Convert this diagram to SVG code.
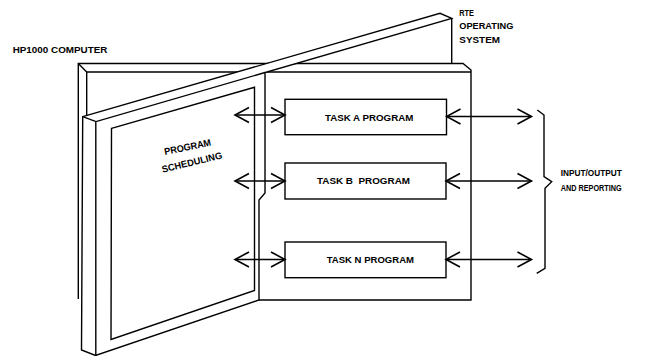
<svg xmlns="http://www.w3.org/2000/svg" width="651" height="356" viewBox="0 0 651 356">
<style>
.ln{fill:none;stroke:#000;stroke-width:1.4;stroke-linejoin:miter}
.fw{fill:#fff;stroke:#000;stroke-width:1.4;stroke-linejoin:miter}
.bx{fill:#fff;stroke:#000;stroke-width:1.4}
.t{font-family:"Liberation Sans",Arial,sans-serif;font-weight:bold;font-size:9.6px;fill:#000}
.ar{fill:none;stroke:#000;stroke-width:1.6}
</style>
<defs>
<marker id="chev" markerUnits="userSpaceOnUse" viewBox="-16 -9 18 18" refX="0" refY="0" markerWidth="18" markerHeight="18" orient="auto-start-reverse">
<path d="M-14,-7.5 L0,0 L-14,7.5" fill="none" stroke="#000" stroke-width="1.6"/>
</marker>
</defs>
<rect width="651" height="356" fill="#fff"/>
<g id="hp1000">
<path class="ln" d="M78.3,299 V63.5 H463 L471,70 V300 H259"/>
<path class="ln" d="M78.3,63.5 L86.7,71.9 M86.7,116 V72 H471"/>
<path class="ln" d="M451.7,18.3 V63.5"/>
<text class="t" x="12.7" y="53.3" textLength="94.7" lengthAdjust="spacingAndGlyphs">HP1000 COMPUTER</text>
</g>
<g id="rte">
<text class="t" x="459.3" y="16" textLength="14.7" lengthAdjust="spacingAndGlyphs">RTE</text>
<text class="t" x="459.3" y="29.3" textLength="54" lengthAdjust="spacingAndGlyphs">OPERATING</text>
<text class="t" x="459.3" y="42.7" textLength="40.7" lengthAdjust="spacingAndGlyphs">SYSTEM</text>
</g>
<g id="door">
<path class="fw" d="M82.7,116.7 L440,13.3 L451.7,18.3 L265,72.5 V193 L259,200 V300 L95.5,355.5 L81.5,350 Z"/>
<path class="ln" d="M82.7,116.7 L96,121.6 L265,72.5 M95.8,121.6 V355.5"/>
</g>
<g id="scheduling">
<path class="ln" d="M111.5,128.3 L254.5,87.3 V290.5 L111,339.5 Z"/>
<text class="t" transform="translate(165,155) rotate(-11.5)" textLength="47.5" lengthAdjust="spacingAndGlyphs">PROGRAM</text>
<text class="t" transform="translate(162.7,172.7) rotate(-13.5)" textLength="61.7" lengthAdjust="spacingAndGlyphs">SCHEDULING</text>
</g>
<g id="taskA">
<rect class="bx" x="285" y="99.3" width="161.5" height="35.4"/>
<text class="t" x="325" y="120.7" textLength="88.3" lengthAdjust="spacingAndGlyphs">TASK A PROGRAM</text>
</g>
<g id="taskB">
<rect class="bx" x="285" y="163" width="161" height="36"/>
<text class="t" x="317" y="184.3" textLength="93" lengthAdjust="spacingAndGlyphs" xml:space="preserve">TASK B  PROGRAM</text>
</g>
<g id="taskN">
<rect class="bx" x="285" y="242" width="161" height="35.7"/>
<text class="t" x="326.7" y="263" textLength="87.3" lengthAdjust="spacingAndGlyphs">TASK N PROGRAM</text>
</g>
<g id="io">
<path class="ln" d="M537.3,110 L544,115 V176.7 L551.7,181.7 L545,188.3 V268.3 L536.7,273.3"/>
<text class="t" x="560.7" y="176" textLength="61" lengthAdjust="spacingAndGlyphs">INPUT/OUTPUT</text>
<text class="t" x="560.7" y="190.7" textLength="61" lengthAdjust="spacingAndGlyphs">AND REPORTING</text>
</g>
<g id="connectors">
<line class="ar" x1="235" y1="115" x2="285" y2="115" marker-start="url(#chev)" marker-end="url(#chev)"/>
<line class="ar" x1="235" y1="181" x2="285" y2="181" marker-start="url(#chev)" marker-end="url(#chev)"/>
<line class="ar" x1="235" y1="259.5" x2="285" y2="259.5" marker-start="url(#chev)" marker-end="url(#chev)"/>
<line class="ar" x1="446.5" y1="116.5" x2="531.5" y2="116.5" marker-start="url(#chev)" marker-end="url(#chev)"/>
<line class="ar" x1="446" y1="181" x2="531.5" y2="181" marker-start="url(#chev)" marker-end="url(#chev)"/>
<line class="ar" x1="446" y1="259.5" x2="531.5" y2="259.5" marker-start="url(#chev)" marker-end="url(#chev)"/>
</g>
</svg>
